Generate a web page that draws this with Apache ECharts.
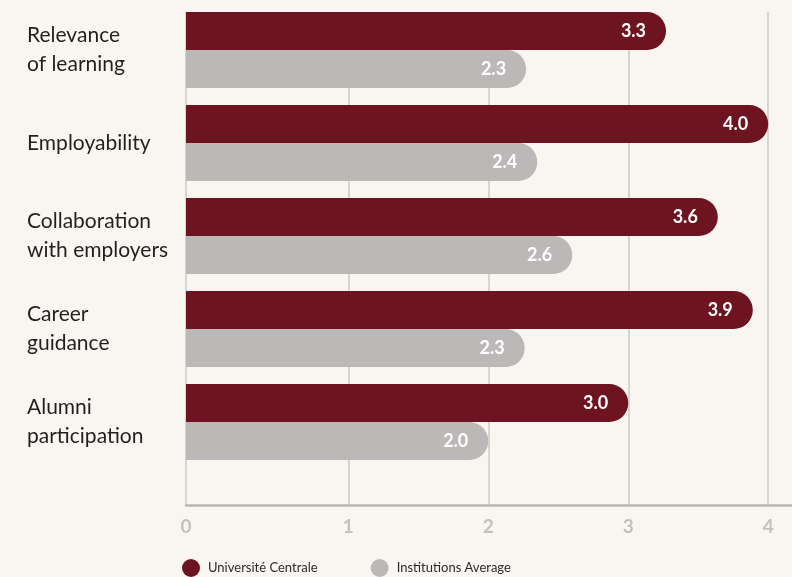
<!DOCTYPE html>
<html>
<head>
<meta charset="utf-8">
<script src="https://cdn.jsdelivr.net/npm/echarts@6/dist/echarts.min.js"></script>
<style>
html,body{margin:0;padding:0;background:#f9f6f2;}
#c{width:792px;height:577px;}
</style>
</head>
<body>
<div id="c"></div>
<script>
var categories = ['Relevance\nof learning', 'Employability', 'Collaboration\nwith employers', 'Career\nguidance', 'Alumni\nparticipation'];
var seriesNames = ['Université Centrale', 'Institutions Average'];
var centrale = [3.27, 4.0, 3.64, 3.89, 3.0];
var average = [2.27, 2.35, 2.6, 2.26, 2.0];
var tickValues = [-0.16, 1, 2, 3, 4];
var tickLabels = ['0', '1', '2', '3', '4'];

var AX_MIN = -0.16, AX_MAX = 4.17;
var FONT = 'Lato, "Noto Sans", sans-serif';

var chart = echarts.init(document.getElementById('c'), null, {renderer: 'canvas'});

function barLabel() {
  return {
    show: true,
    position: 'insideRight',
    distance: 20,
    color: '#ffffff',
    fontFamily: FONT,
    fontWeight: 'bold',
    fontSize: 18,
    formatter: function (p) { return p.value.toFixed(1); }
  };
}

chart.setOption({
  backgroundColor: '#f9f6f2',
  animation: false,
  legend: {
    data: seriesNames,
    left: 177,
    top: 554,
    icon: 'circle',
    itemWidth: 18,
    itemHeight: 18,
    itemGap: 53,
    textStyle: {fontFamily: FONT, fontSize: 13, color: '#2b2b2b', padding: [0, 0, 0, 3]}
  },
  grid: [
    {left: 186, right: 0, top: 3.5, bottom: 108.5},
    {left: 186, right: 0, top: 12, bottom: 72}
  ],
  xAxis: [
    {
      gridIndex: 0, type: 'value', min: AX_MIN, max: AX_MAX, startValue: AX_MIN,
      show: false, splitLine: {show: false}
    },
    {
      gridIndex: 1, type: 'value', min: AX_MIN, max: AX_MAX,
      axisLine: {show: true, onZero: false, lineStyle: {color: '#b9b6b4', width: 2.5}},
      axisTick: {show: false, customValues: [1, 2, 3, 4]},
      axisLabel: {
        customValues: tickValues,
        formatter: function (v) {
          var i = tickValues.indexOf(v);
          return i >= 0 ? tickLabels[i] : '';
        },
        color: '#c3c0be', fontFamily: FONT, fontSize: 19, fontWeight: 'bold', margin: 12
      },
      splitLine: {show: true, lineStyle: {color: '#cbc8c6', width: 1.5}}
    }
  ],
  yAxis: [
    {
      gridIndex: 0, type: 'category', data: categories, inverse: true,
      axisLine: {show: false}, axisTick: {show: false},
      axisLabel: {
        align: 'left', margin: 159, color: '#231f20',
        fontFamily: FONT, fontSize: 21, lineHeight: 29
      }
    },
    {
      gridIndex: 1, type: 'value', min: 0, max: 1,
      axisLine: {show: true, onZero: false, lineStyle: {color: '#cbc8c6', width: 1.5}},
      axisTick: {show: false}, axisLabel: {show: false}, splitLine: {show: false}
    }
  ],
  series: [
    {
      name: seriesNames[0], type: 'bar', xAxisIndex: 0, yAxisIndex: 0,
      data: centrale, barWidth: 38, barGap: '0%', z: 5,
      itemStyle: {color: '#6e1420', borderRadius: [0, 19, 19, 0]},
      label: barLabel()
    },
    {
      name: seriesNames[1], type: 'bar', xAxisIndex: 0, yAxisIndex: 0,
      data: average, barWidth: 38, barGap: '0%', z: 5,
      itemStyle: {color: '#bcb8b8', borderRadius: [0, 19, 19, 0]},
      label: barLabel()
    }
  ]
});
</script>
</body>
</html>
